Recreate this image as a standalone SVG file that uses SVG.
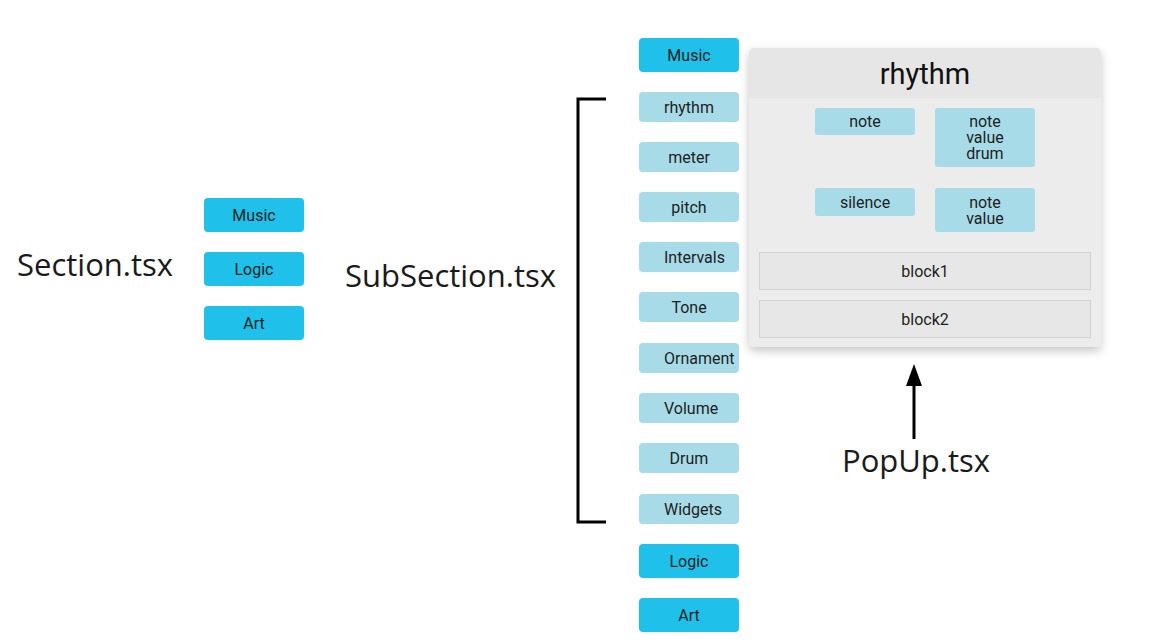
<svg xmlns="http://www.w3.org/2000/svg" width="1151" height="642" viewBox="0 0 1151 642">
<defs>
<style>
.big{font-family:"Open Sans","Noto Sans",sans-serif;font-size:31px;fill:#1a1a1a}
.lbl{font-family:Roboto,"Liberation Sans",sans-serif;font-size:16px;fill:#1e1e1e;text-anchor:middle}
.lbl.l{text-anchor:start}
.main{fill:#1fc1ea}
.sub{fill:#a8dbe8}
.blk{fill:#e7e7e7;stroke:#d2d2d2;stroke-width:1}
.ln{stroke:#000;stroke-width:3;fill:none}
</style>
<filter id="sh" x="-10%" y="-10%" width="120%" height="125%">
<feDropShadow dx="0" dy="4" stdDeviation="5" flood-color="#000" flood-opacity="0.22"/>
</filter>
</defs>

<text class="big" x="17" y="276">Section.tsx</text>
<text class="big" x="345" y="287">SubSection.tsx</text>
<text class="big" x="842" y="472">PopUp.tsx</text>

<g id="sec-music"><rect class="main" x="204" y="198" width="100" height="34" rx="4"/><text class="lbl" x="254" y="221">Music</text></g>
<g id="sec-logic"><rect class="main" x="204" y="252" width="100" height="34" rx="4"/><text class="lbl" x="254" y="275">Logic</text></g>
<g id="sec-art"><rect class="main" x="204" y="306" width="100" height="34" rx="4"/><text class="lbl" x="254" y="329">Art</text></g>

<g id="col-music"><rect class="main" x="639" y="38" width="100" height="34" rx="4"/><text class="lbl" x="689" y="61">Music</text></g>
<g id="col-rhythm"><rect class="sub" x="639" y="92" width="100" height="30" rx="4"/><text class="lbl" x="689" y="113">rhythm</text></g>
<g id="col-meter"><rect class="sub" x="639" y="142" width="100" height="30" rx="4"/><text class="lbl" x="689" y="163">meter</text></g>
<g id="col-pitch"><rect class="sub" x="639" y="192" width="100" height="30" rx="4"/><text class="lbl" x="689" y="213">pitch</text></g>
<g id="col-intervals"><rect class="sub" x="639" y="242" width="100" height="30" rx="4"/><text class="lbl l" x="664" y="263">Intervals</text></g>
<g id="col-tone"><rect class="sub" x="639" y="292" width="100" height="30" rx="4"/><text class="lbl" x="689" y="313">Tone</text></g>
<g id="col-ornament"><rect class="sub" x="639" y="343" width="100" height="30" rx="4"/><text class="lbl l" x="664" y="364">Ornament</text></g>
<g id="col-volume"><rect class="sub" x="639" y="393" width="100" height="30" rx="4"/><text class="lbl l" x="664" y="414">Volume</text></g>
<g id="col-drum"><rect class="sub" x="639" y="443" width="100" height="30" rx="4"/><text class="lbl" x="689" y="464">Drum</text></g>
<g id="col-widgets"><rect class="sub" x="639" y="494" width="100" height="30" rx="4"/><text class="lbl l" x="664" y="515">Widgets</text></g>
<g id="col-logic"><rect class="main" x="639" y="544" width="100" height="34" rx="4"/><text class="lbl" x="689" y="567">Logic</text></g>
<g id="col-art"><rect class="main" x="639" y="598" width="100" height="34" rx="4"/><text class="lbl" x="689" y="621">Art</text></g>

<g id="popup">
<rect x="749" y="48" width="352" height="299" rx="5" fill="#ececec" filter="url(#sh)"/>
<path d="M754,48 H1096 A5,5 0 0 1 1101,53 V98 H749 V53 A5,5 0 0 1 754,48 Z" fill="#e6e6e6"/>
<text x="925" y="84" style="font-family:Roboto,'Liberation Sans',sans-serif;font-size:29px;fill:#111;text-anchor:middle">rhythm</text>
<g id="pop-note"><rect class="sub" x="815" y="108" width="100" height="27" rx="3"/><text class="lbl" x="865" y="127">note</text></g>
<g id="pop-nvd"><rect class="sub" x="935" y="108" width="100" height="59" rx="3"/><text class="lbl" x="985" y="127">note<tspan x="985" dy="16">value</tspan><tspan x="985" dy="16">drum</tspan></text></g>
<g id="pop-silence"><rect class="sub" x="815" y="188" width="100" height="28" rx="3"/><text class="lbl" x="865" y="208">silence</text></g>
<g id="pop-nv"><rect class="sub" x="935" y="188" width="100" height="44" rx="3"/><text class="lbl" x="985" y="208">note<tspan x="985" dy="16">value</tspan></text></g>
<g id="pop-block1"><rect class="blk" x="759.5" y="252.5" width="331" height="37"/><text class="lbl" x="925" y="277">block1</text></g>
<g id="pop-block2"><rect class="blk" x="759.5" y="300.5" width="331" height="37"/><text class="lbl" x="925" y="325">block2</text></g>
</g>

<g id="connectors">
<path class="ln" d="M606,99 H578 V522 H606"/>
<line class="ln" x1="914" y1="439" x2="914" y2="380"/>
<path d="M914,364 L922,386 L906,386 Z" fill="#000"/>
</g>
</svg>
